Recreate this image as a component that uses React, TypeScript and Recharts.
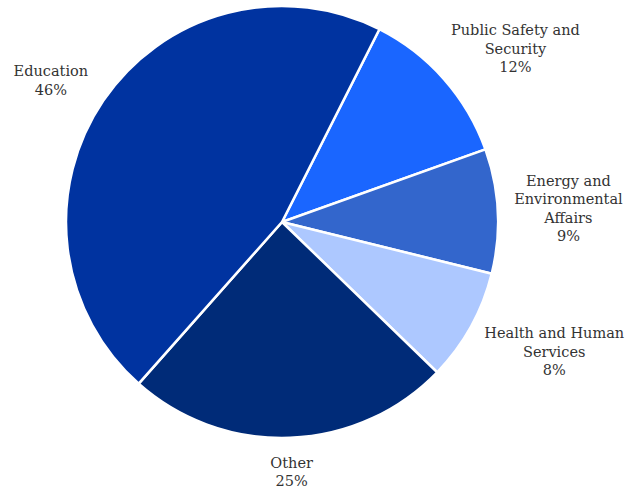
import { PieChart, Pie, Cell } from 'recharts';

// budget shares, clockwise from the Public Safety slice (slice sizes)
const categories = ['Public Safety and Security', 'Energy and Environmental Affairs', 'Health and Human Services', 'Other', 'Education'];
const shares = [12.1, 9.3, 8.4, 24.3, 45.9];
// percentages as printed on the chart
const printedPct = ['12%', '9%', '8%', '25%', '46%'];
const labelLines = [
    ['Public Safety and', 'Security'],
    ['Energy and', 'Environmental', 'Affairs'],
    ['Health and Human', 'Services'],
    ['Other'],
    ['Education'],
];
const colors = ['#1A66FF', '#3366CC', '#ADC8FF', '#002B78', '#0033A0'];

const data = categories.map((name, i) => ({ name, value: shares[i] }));

const FONT = '"DejaVu Serif", serif';
const FONT_SIZE = 14.5;
const LINE_H = 18.5;

let ctx: CanvasRenderingContext2D | null = null;
function textWidth(s: string) {
    if (!ctx) ctx = document.createElement('canvas').getContext('2d');
    if (!ctx) return s.length * 7.7;
    ctx.font = `${FONT_SIZE}px "DejaVu Serif"`;
    return ctx.measureText(s).width;
}

// excel-ish "outside end": push the label box out along the mid angle
function renderLabel(props: any) {
    const { cx, cy, midAngle, outerRadius, index } = props;
    const rad = (midAngle * Math.PI) / 180;
    const dx = Math.cos(rad);
    const dy = -Math.sin(rad);
    const lines = [...labelLines[index], printedPct[index]];
    const w = Math.max(...lines.map(textWidth));
    const h = lines.length * LINE_H;
    const gap = 15 + 24 * Math.abs(dx * dy);
    const px = cx + (outerRadius + gap) * dx;
    const py = cy + (outerRadius + gap) * dy;
    const bx = px + (dx * w) / 2 + 6 * Math.max(0, -dy) * Math.max(0, dx);
    const by = py + (dy * h) / 2 + 9 * Math.max(0, -dy);
    const top = by - h / 2;
    return (
        <text x={bx} y={top} textAnchor="middle" fill="#333333" fontFamily={FONT} fontSize={FONT_SIZE}>
            {lines.map((l, i) => (
                <tspan key={i} x={bx} y={top + LINE_H * i + 14}>
                    {l}
                </tspan>
            ))}
        </text>
    );
}

export default function App() {
    return (
        <div style={{ position: 'absolute', left: 0, top: 0, width: 640, height: 489, background: '#fff' }}>
            <PieChart width={640} height={489} margin={{ top: 0, right: 0, bottom: 0, left: 0 }}>
                <Pie
                    data={data}
                    dataKey="value"
                    cx={282}
                    cy={222}
                    outerRadius={216}
                    startAngle={63.2}
                    endAngle={-296.8}
                    stroke="#ffffff"
                    strokeWidth={2.5}
                    label={renderLabel}
                    labelLine={false}
                    isAnimationActive={false}
                >
                    {data.map((d, i) => (
                        <Cell key={d.name} fill={colors[i]} />
                    ))}
                </Pie>
            </PieChart>
        </div>
    );
}
